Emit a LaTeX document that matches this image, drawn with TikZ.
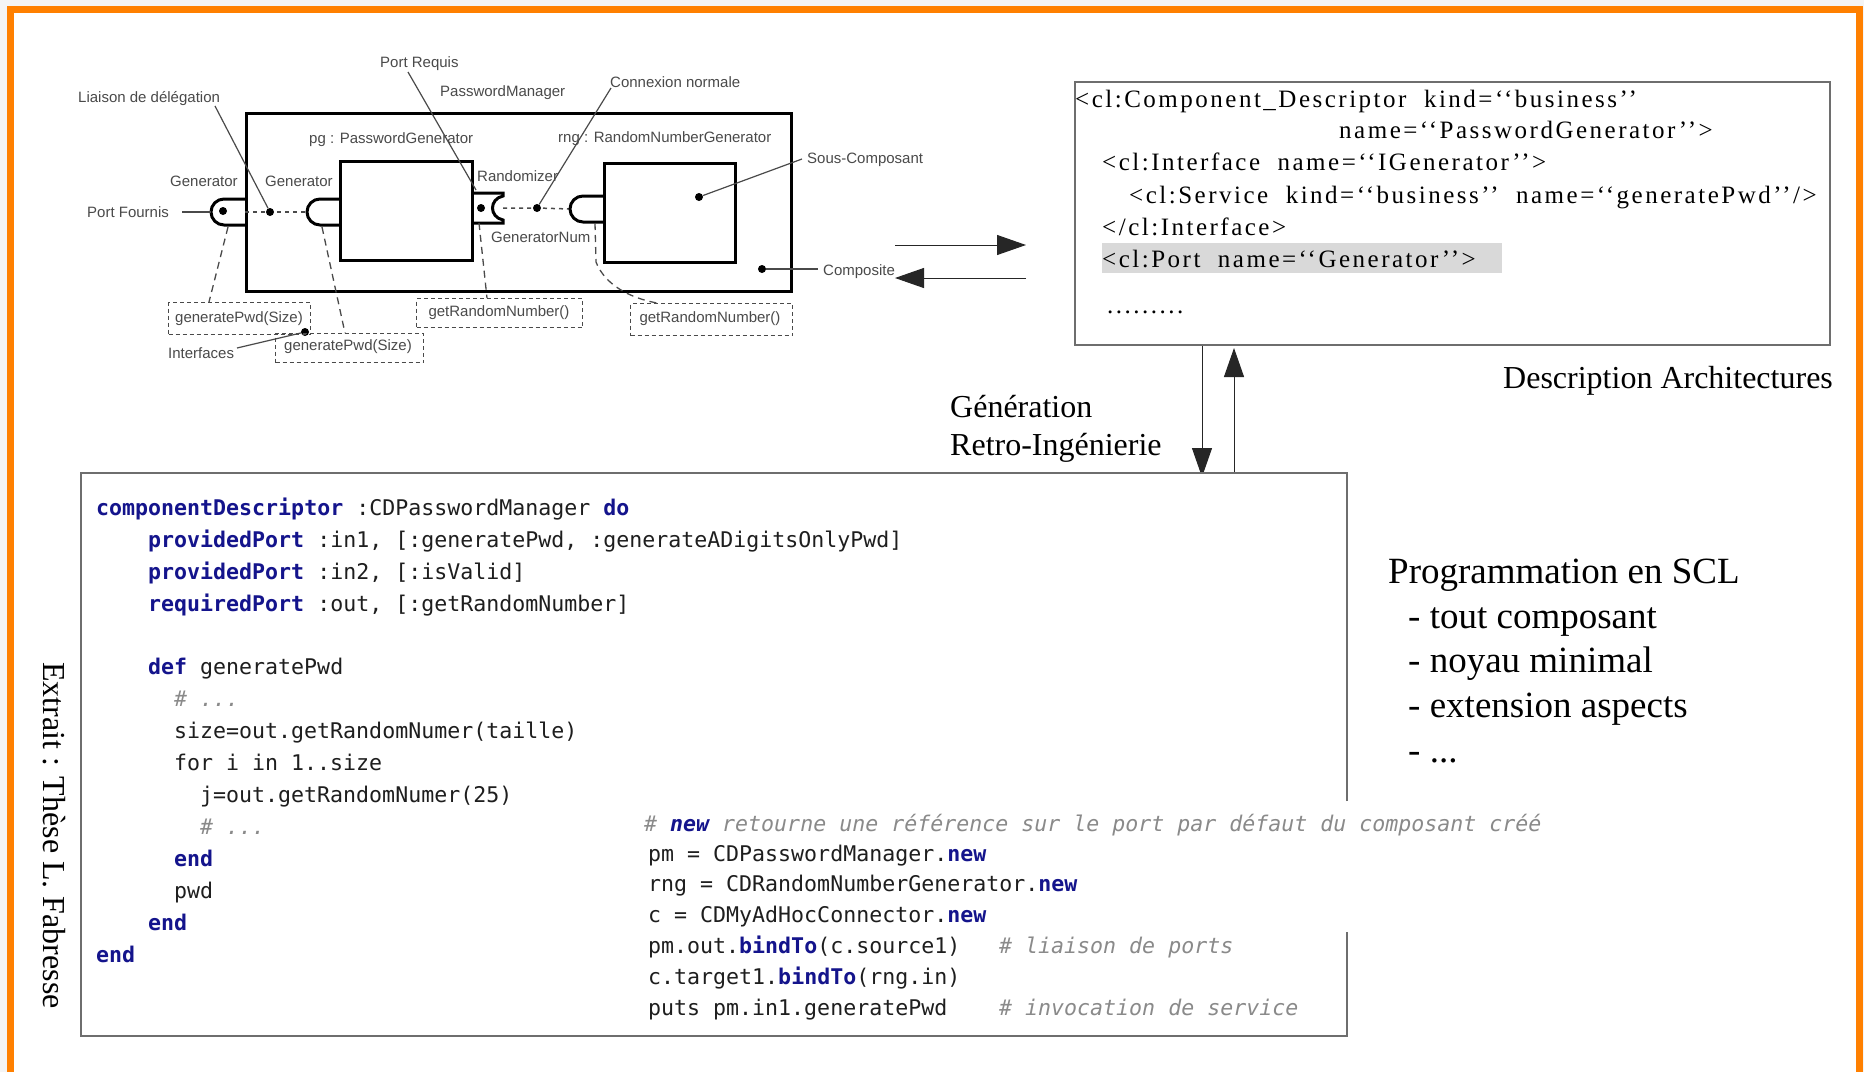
\documentclass[tikz,border=0pt]{standalone}
\usepackage{fontspec}
\setmainfont{Liberation Serif}
\newfontfamily\labfont{Liberation Sans}
\newfontfamily\codefont{DejaVu Sans Mono}
\newfontfamily\xmlfont[LetterSpace=10]{Liberation Serif}
\usetikzlibrary{arrows.meta}
\definecolor{orangeframe}{HTML}{FF8000}
\definecolor{bggray}{HTML}{F4F4F4}
\definecolor{kwblue}{HTML}{14148C}
\definecolor{cmgray}{HTML}{8A8A8A}
\definecolor{codeblack}{HTML}{1E1E1E}
\definecolor{labgray}{HTML}{4A4A4A}
\definecolor{hlgray}{HTML}{D9D9D9}
\definecolor{boxgray}{HTML}{6E6E6E}
\newcommand{\kwd}[1]{{\bfseries\color{kwblue}#1}}
\newcommand{\cmt}[1]{{\itshape\color{cmgray}#1}}
\begin{document}
\begin{tikzpicture}[x=1pt,y=-1pt,
  lab/.style={font=\labfont\fontsize{15}{18}\selectfont, text=labgray, inner sep=0pt, anchor=base west},
  boxlab/.style={font=\labfont\fontsize{15}{18}\selectfont, text=labgray},
  code/.style={font=\codefont\fontsize{21.6}{26}\selectfont, text=codeblack, inner sep=0pt, anchor=base west},
  xmltxt/.style={font=\xmlfont\fontsize{25}{30}\selectfont, inner sep=0pt, anchor=base west},
  bigtxt/.style={font=\fontsize{32}{38}\selectfont, inner sep=0pt, anchor=base west},
  hugetxt/.style={font=\fontsize{37}{45}\selectfont, inner sep=0pt, anchor=base west},
  thickbox/.style={draw=black, line width=3pt, fill=white, inner sep=0pt, anchor=north west},
  thickline/.style={draw=black, line width=3pt, line join=miter},
  leader/.style={line width=1.2pt, draw=labgray},
  dotc/.style={circle, fill=black, inner sep=0pt, minimum size=8pt},
  ifbox/.style={draw=labgray, line width=1.3pt, dash pattern=on 4pt off 3pt, inner sep=0pt, anchor=north west},
  conn/.style={line width=1.5pt, dash pattern=on 4pt off 4pt, draw=labgray},
  ifleader/.style={line width=1.3pt, dash pattern=on 7pt off 5pt, draw=labgray},
  bigarrow/.style={line width=1pt, draw=black!85, -{Triangle[length=29pt,width=20pt]}},
  xmlbox/.style={draw=boxgray, line width=1.6pt, fill=white, inner sep=0pt, anchor=north west},
  codeborder/.style={draw=boxgray, line width=1.6pt}
]
\useasboundingbox (0,0) rectangle (1864,1072);
% frame
\fill[bggray] (0,0) rectangle (1864,1072);
\fill[orangeframe] (7,6) rectangle (1863,1072);
\fill[white] (14,13) rectangle (1856,1072);

% ---------------- component diagram ----------------
\node[thickbox, minimum width=545pt, minimum height=178pt] (comp) at (245,112) {};
\node[thickbox, minimum width=132pt, minimum height=99pt] (pg) at (339,160) {};
\node[thickbox, minimum width=131pt, minimum height=99pt] (rng) at (603,162) {};

% connections (dotted)
\coordinate (dlg) at (270,212);
\coordinate (cnx) at (537,208);
\draw[conn] (245,212) -- (dlg) -- (307,212);
\draw[conn] (503,208) -- (cnx) -- (570,209);

% provided ports
\draw[thickline] (245,199) -- (224,199) .. controls (216.8,199) and (211,204.8) .. (211,212) .. controls (211,219.2) and (216.8,225) .. (224,225) -- (245,225);
\draw[thickline] (339,199) -- (320,199) .. controls (312.8,199) and (307,204.8) .. (307,212) .. controls (307,219.2) and (312.8,225) .. (320,225) -- (339,225);
\draw[thickline] (603,196) -- (583,196) .. controls (575.8,196) and (570,201.8) .. (570,209) .. controls (570,216.2) and (575.8,222) .. (583,222) -- (603,222);
% required port
\draw[thickline] (471,193) -- (503,193) -- (503,196) .. controls (489,199) and (489,217) .. (503,220) -- (503,223) -- (471,223);

% dots
\node[dotc] (dPF) at (223,211) {};
\node[dotc] (dDL) at (dlg) {};
\node[dotc] (dRZ) at (481,208) {};
\node[dotc] (dCN) at (cnx) {};
\node[dotc] (dSC) at (699,197) {};
\node[dotc] (dCO) at (762,269) {};
\node[dotc] (dIF) at (305,332) {};

% interface boxes
\node[ifbox, minimum width=142pt, minimum height=32pt] (if1) at (168,302) {};
\node[boxlab] (if1t) at (239,319) {generatePwd(Size)};
\node[ifbox, minimum width=148pt, minimum height=29pt] (if2) at (275,333) {};
\node[boxlab] (if2t) at (348,347) {generatePwd(Size)};
\node[ifbox, minimum width=166pt, minimum height=29pt] (if3) at (416,298) {};
\node[boxlab] (if3t) at (499,313) {getRandomNumber()};
\node[ifbox, minimum width=162pt, minimum height=32pt] (if4) at (630,303) {};
\node[boxlab] (if4t) at (710,319) {getRandomNumber()};

% dashed leaders to interfaces
\draw[ifleader] (228,227) -- (209,302);
\draw[ifleader] (322,227) -- (345,333);
\draw[ifleader] (479,223) -- (487,298);
\draw[ifleader] (595,223) -- (596,262) .. controls (605,285) and (630,298) .. (657,303);

% labels
\node[lab] (lPR) at (380,67) {Port Requis};
\node[lab] (lPM) at (440,96) {PasswordManager};
\node[lab] (lCN) at (610,87) {Connexion normale};
\node[lab] (lLD) at (78,102) {Liaison de délégation};
\node[lab] (lPG) at (309,143) {pg : PasswordGenerator};
\node[lab] (lRN) at (558,142) {rng : RandomNumberGenerator};
\node[lab] (lG1) at (170,186) {Generator};
\node[lab] (lG2) at (265,186) {Generator};
\node[lab] (lPF) at (87,217) {Port Fournis};
\node[lab] (lRZ) at (477,181) {Randomizer};
\node[lab] (lGN) at (491,242) {GeneratorNum};
\node[lab] (lSC) at (807,163) {Sous-Composant};
\node[lab] (lCO) at (823,275) {Composite};
\node[lab] (lIF) at (168,358) {Interfaces};

% solid leaders
\coordinate (prEnd) at (476,190);
\draw[leader] (408,72) -- (prEnd);
\draw[leader] (215,106) -- (dDL);
\draw[leader] (611,88) -- (dCN);
\draw[leader] (dSC) -- (802,159);
\draw[leader] (dCO) -- (818,269);
\draw[leader] (237,348) -- (dIF);
\draw[leader] (182,212) -- (211,212);

% arrows diagram <-> xml
\coordinate (rA) at (895,245);
\coordinate (rB) at (1026,245);
\coordinate (lA) at (1026,278);
\coordinate (lB) at (895,278);
\draw[bigarrow] (rA) -- (rB);
\draw[bigarrow] (lA) -- (lB);

% ---------------- XML box ----------------
\node[xmlbox, minimum width=755pt, minimum height=263pt] (xml) at (1074,81) {};
\fill[hlgray] (1102,243) rectangle (1502,273);
\node[xmltxt] (x1) at (1075,107) {<cl:Component\_Descriptor\ \ kind=‘‘business’’};
\node[xmltxt] (x2) at (1339,138) {name=‘‘PasswordGenerator’’>};
\node[xmltxt] (x3) at (1102,170) {<cl:Interface\ \ name=‘‘IGenerator’’>};
\node[xmltxt] (x4) at (1129,203) {<cl:Service\ \ kind=‘‘business’’\ \ name=‘‘generatePwd’’/>};
\node[xmltxt] (x5) at (1102,235) {</cl:Interface>};
\node[xmltxt] (x6) at (1102,267) {<cl:Port\ \ name=‘‘Generator’’>};
\node[xmltxt] (x7) at (1107,313) {.........};
\node[bigtxt] (desc) at (1503,388) {Description Architectures};

% vertical arrows
\coordinate (dA) at (1202,346);
\coordinate (dB) at (1202,477);
\coordinate (uA) at (1234,477);
\coordinate (uB) at (1234,348);
\draw[bigarrow] (dA) -- (dB);
\draw[bigarrow] (uA) -- (uB);
\node[bigtxt] (gen) at (950,417) {Génération};
\node[bigtxt] (retro) at (950,455) {Retro-Ingénierie};

% ---------------- code box ----------------
\fill[white] (81,473) rectangle (1347,1036);
\draw[codeborder] (1347,801) -- (1347,473) -- (81,473) -- (81,1036) -- (1347,1036) -- (1347,932);
\node[code] (c1) at (96,515) {\kwd{componentDescriptor} :CDPasswordManager \kwd{do}};
\node[code] (c2) at (148,547) {\kwd{providedPort} :in1, [:generatePwd, :generateADigitsOnlyPwd]};
\node[code] (c3) at (148,579) {\kwd{providedPort} :in2, [:isValid]};
\node[code] (c4) at (148,611) {\kwd{requiredPort} :out, [:getRandomNumber]};
\node[code] (c5) at (148,674) {\kwd{def} generatePwd};
\node[code] (c6) at (174,706) {\cmt{\# ...}};
\node[code] (c7) at (174,738) {size=out.getRandomNumer(taille)};
\node[code] (c8) at (174,770) {for i in 1..size};
\node[code] (c9) at (200,802) {j=out.getRandomNumer(25)};
\node[code] (c10) at (200,834) {\cmt{\# ...}};
\node[code] (c11) at (174,866) {\kwd{end}};
\node[code] (c12) at (174,898) {pwd};
\node[code] (c13) at (148,930) {\kwd{end}};
\node[code] (c14) at (96,962) {\kwd{end}};

\node[code] (s1) at (644,831) {\cmt{\# \kwd{new} retourne une référence sur le port par défaut du composant créé}};
\node[code] (s2) at (648,861) {pm = CDPasswordManager.\kwd{new}};
\node[code] (s3) at (648,891) {rng = CDRandomNumberGenerator.\kwd{new}};
\node[code] (s4) at (648,922) {c = CDMyAdHocConnector.\kwd{new}};
\node[code] (s5) at (648,953) {pm.out.\kwd{bindTo}(c.source1)};
\node[code] (s5c) at (999,953) {\cmt{\# liaison de ports}};
\node[code] (s6) at (648,984) {c.target1.\kwd{bindTo}(rng.in)};
\node[code] (s7) at (648,1015) {puts pm.in1.generatePwd};
\node[code] (s7c) at (999,1015) {\cmt{\# invocation de service}};

% ---------------- right texts ----------------
\node[hugetxt] (p0) at (1388,583) {Programmation en SCL};
\node[hugetxt] (p1) at (1408,628) {- tout composant};
\node[hugetxt] (p2) at (1408,672) {- noyau minimal};
\node[hugetxt] (p3) at (1408,717) {- extension aspects};
\node[hugetxt] (p4) at (1408,762) {- ...};

\node[bigtxt, rotate=-90] (extr) at (43,662) {Extrait : Thèse L. Fabresse};
\end{tikzpicture}
\end{document}
